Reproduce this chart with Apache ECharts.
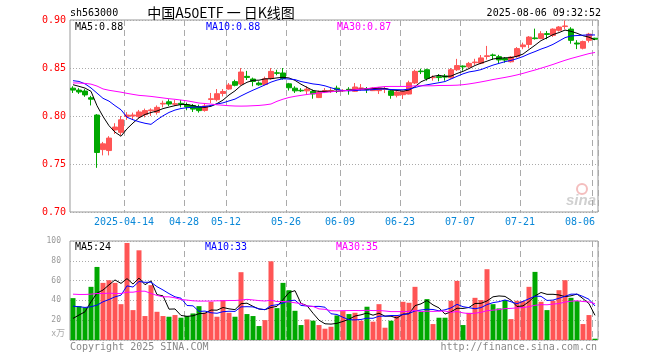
<!DOCTYPE html>
<html><head><meta charset="utf-8">
<script src="https://cdn.jsdelivr.net/npm/echarts@6/dist/echarts.min.js"></script>
<style>html,body{margin:0;padding:0;background:#fff}#c{width:660px;height:360px}</style>
</head><body><div id="c"></div>
<script>
const dates = [
'2025-03-31','2025-04-01','2025-04-02','2025-04-03','2025-04-07','2025-04-08','2025-04-09','2025-04-10','2025-04-11','2025-04-14','2025-04-15','2025-04-16','2025-04-17','2025-04-18','2025-04-21','2025-04-22','2025-04-23','2025-04-24','2025-04-25','2025-04-28','2025-04-29','2025-04-30',
'2025-05-06','2025-05-07','2025-05-08','2025-05-09','2025-05-12','2025-05-13','2025-05-14','2025-05-15','2025-05-16','2025-05-19','2025-05-20','2025-05-21','2025-05-22','2025-05-23','2025-05-26','2025-05-27','2025-05-28','2025-05-29','2025-05-30',
'2025-06-03','2025-06-04','2025-06-05','2025-06-06','2025-06-09','2025-06-10','2025-06-11','2025-06-12','2025-06-13','2025-06-16','2025-06-17','2025-06-18','2025-06-19','2025-06-20','2025-06-23','2025-06-24','2025-06-25','2025-06-26','2025-06-27','2025-06-30',
'2025-07-01','2025-07-02','2025-07-03','2025-07-04','2025-07-07','2025-07-08','2025-07-09','2025-07-10','2025-07-11','2025-07-14','2025-07-15','2025-07-16','2025-07-17','2025-07-18','2025-07-21','2025-07-22','2025-07-23','2025-07-24','2025-07-25','2025-07-28','2025-07-29','2025-07-30','2025-07-31',
'2025-08-01','2025-08-04','2025-08-05','2025-08-06'];

const openP = [0.829,0.827,0.826,0.819,0.801,0.765,0.764,0.7855,0.783,0.7995,0.800,0.7993,0.8014,0.8055,0.8038,0.8125,0.8148,0.8122,0.8132,0.8118,0.8109,0.8094,
0.8058,0.8172,0.817,0.8235,0.8281,0.8358,0.8333,0.8413,0.8385,0.8343,0.8328,0.839,0.845,0.8448,0.8335,0.829,0.8268,0.8262,0.8257,
0.8192,0.8252,0.826,0.829,0.8262,0.8278,0.8257,0.8288,0.8284,0.8264,0.8264,0.8278,0.8262,0.8216,0.8222,0.8229,0.8344,0.8468,0.8482,0.8399,
0.841,0.8417,0.8398,0.8482,0.852,0.8512,0.8555,0.855,0.862,0.8636,0.8618,0.8598,0.8565,0.8618,0.8722,0.8745,0.8813,0.8808,0.8858,0.884,0.8893,0.8932,0.8905,
0.876,0.8706,0.8788,0.881];
const closeP = [0.827,0.825,0.822,0.8175,0.762,0.771,0.777,0.7885,0.796,0.801,0.801,0.8042,0.8056,0.8063,0.809,0.8132,0.8125,0.8128,0.8122,0.8094,0.8072,0.8056,
0.8105,0.818,0.8232,0.8255,0.8322,0.832,0.8458,0.8402,0.836,0.8325,0.8388,0.8465,0.8445,0.839,0.8294,0.8262,0.8262,0.828,0.823,
0.825,0.8265,0.8266,0.8274,0.8266,0.8268,0.8302,0.8292,0.8279,0.8291,0.8291,0.8284,0.8215,0.825,0.8255,0.8346,0.8465,0.8462,0.839,0.8403,
0.840,0.8405,0.8482,0.8525,0.8512,0.8548,0.8562,0.8605,0.8627,0.863,0.8584,0.8583,0.8614,0.8702,0.874,0.8822,0.8806,0.8857,0.885,0.8905,0.8927,0.8938,0.8788,
0.875,0.8775,0.8853,0.880];
const highP = [0.831,0.829,0.828,0.821,0.802,0.773,0.779,0.7925,0.800,0.804,0.8035,0.8063,0.8077,0.808,0.811,0.816,0.8174,0.8167,0.8167,0.814,0.8125,0.8118,
0.8135,0.824,0.8281,0.8281,0.8343,0.8378,0.850,0.847,0.840,0.836,0.841,0.850,0.8482,0.850,0.8345,0.831,0.829,0.831,0.8275,
0.8265,0.8291,0.829,0.8316,0.828,0.830,0.8344,0.8333,0.8302,0.830,0.8302,0.8302,0.8274,0.8264,0.8264,0.8368,0.8482,0.8493,0.8493,0.8423,
0.8437,0.8437,0.850,0.8595,0.8527,0.8563,0.8596,0.8635,0.873,0.865,0.8637,0.8614,0.8624,0.8718,0.8764,0.8833,0.891,0.8884,0.8885,0.8913,0.8937,0.8996,0.8925,
0.879,0.8785,0.8866,0.8815];
const lowP = [0.824,0.823,0.820,0.811,0.746,0.759,0.759,0.7813,0.780,0.796,0.796,0.7973,0.7986,0.800,0.8014,0.809,0.8104,0.8104,0.809,0.806,0.8042,0.8035,
0.8045,0.8135,0.8152,0.8204,0.8274,0.8309,0.8319,0.8375,0.831,0.8315,0.832,0.8378,0.8424,0.8378,0.8265,0.824,0.825,0.8222,0.818,
0.8187,0.8239,0.824,0.8239,0.825,0.8222,0.825,0.8264,0.8239,0.826,0.8229,0.8239,0.818,0.8194,0.8177,0.8225,0.8333,0.8437,0.8368,0.8368,
0.8361,0.8368,0.8388,0.8468,0.8472,0.850,0.8532,0.854,0.8588,0.8585,0.8548,0.8555,0.8557,0.8607,0.8696,0.8705,0.8796,0.880,0.880,0.8823,0.888,0.8903,0.8753,
0.8697,0.8694,0.8765,0.8795];
const volume = [42.3,34.2,32.9,53.7,73.8,57.7,60.4,57.7,36.2,98.0,30.2,90.6,24.2,55.4,28.5,24.2,23.5,25.2,22.5,24.2,26.8,34.2,
27.5,38.6,23.5,40.3,27.5,23.5,68.5,26.2,24.2,14.1,20.1,79.5,32.2,57.7,50.3,29.5,15.1,20.8,19.5,
15.1,11.4,13.4,24.8,29.2,26.2,27.5,19.5,33.6,18.5,36.2,12.4,19.5,24.2,38.6,37.6,53.7,28.5,41.3,16.1,
22.5,22.5,39.6,59.7,15.1,27.5,42.6,40.3,71.5,36.2,31.9,40.3,21.1,39.6,39.3,53.7,68.8,38.6,30.2,39.6,50.3,60.4,42.6,
39.3,16.1,25.2,1.3];

// moving-average values before a full window is available
const ma5Lead = [0.8326,0.8309,0.8291,0.8257];
const ma10Lead = [0.8368,0.8360,0.8335,0.8292,0.8238,0.8184,0.8155,0.8108,0.8065];
const ma30Lead = [0.8345,0.8343,0.834,0.8332,0.8312,0.8282,0.8268,0.8258,0.8248,0.8236,0.8225,0.8215,0.8210,0.8204,0.8196,0.8188,0.8180,0.8174,0.8166,0.8158,0.8147,0.8135,0.8130,0.8124,0.8117,0.8112,0.8107,0.8104,0.8103];
const vma5Lead = [21.8,25.2,28.5,38.6];
const vma10Lead = [34.2,33.6,32.9,33.6,35.2,38.6,40.9,43.6,45.3];
const vma30Lead = [46.3,46.0,46.0,46.3,47.0,47.0,47.3,47.0,47.0,48.3,48.3,49.3,49.3,47.0,45.0,43.6,43.6,42.6,40.9,40.3,39.6,39.3,39.3,39.3,39.6,39.6,39.9,39.9,40.3];

const tickDates = ['2025-04-14','2025-04-28','2025-05-12','2025-05-26','2025-06-09','2025-06-23','2025-07-07','2025-07-21','2025-08-06'];
const tickLabels = ['2025-04-14','04-28','05-12','05-26','06-09','06-23','07-07','07-21','08-06'];
const volGridDates = ['2025-04-28','2025-05-26','2025-06-09','2025-06-23','2025-07-07','2025-07-21','2025-08-06'];
const priceLegend = ['MA5:0.88','MA10:0.88','MA30:0.87'];
const volLegend = ['MA5:24','MA10:33','MA30:35'];

function movingAvg(vals, n, lead) {
  return vals.map((v, i) => {
    if (i < n - 1) return lead[i];
    let s = 0;
    for (let k = i - n + 1; k <= i; k++) s += vals[k];
    return +(s / n).toFixed(4);
  });
}

const UP = '#ff5555', DOWN = '#00a800';
const MONO = 'DejaVu Sans Mono';
const priceSplitIdx = new Set(tickDates.map(d => dates.indexOf(d)));
const volSplitIdx = new Set(volGridDates.map(d => dates.indexOf(d)));

const candleData = dates.map((d, i) => [openP[i], closeP[i], lowP[i], highP[i]]);
const volData = volume.map((v, i) => ({ value: v, itemStyle: { color: closeP[i] >= openP[i] ? UP : DOWN } }));

function lineSeries(name, data, color, xi, yi) {
  return { name, type: 'line', data, xAxisIndex: xi, yAxisIndex: yi, symbol: 'none', showSymbol: false,
    lineStyle: { color, width: 1 }, itemStyle: { color }, z: 5, silent: true };
}

function txt(x, y, text, fill, align, size, family) {
  return { type: 'text', x, y, silent: true, z: 100,
    style: { text, fill, align: align || 'left', verticalAlign: 'middle', fontSize: size || 10, fontFamily: family || MONO } };
}

const chart = echarts.init(document.getElementById('c'), null, { renderer: 'canvas' });
chart.setOption({
  animation: false,
  backgroundColor: '#ffffff',
  grid: [
    { left: 70, top: 20, width: 528, height: 192, show: true, borderColor: '#999', borderWidth: 1, backgroundColor: 'transparent' },
    { left: 70, top: 241, width: 528, height: 99, show: true, borderColor: '#999', borderWidth: 1, backgroundColor: 'transparent' }
  ],
  xAxis: [
    { type: 'category', gridIndex: 0, data: dates, boundaryGap: true,
      axisLine: { show: false }, axisTick: { show: false },
      axisLabel: {
        interval: (i, v) => tickDates.indexOf(v) >= 0,
        formatter: (v) => { const k = tickDates.indexOf(v); if (k < 0) return ''; return (k === tickDates.length - 1 ? '{e|' : '{n|') + tickLabels[k] + '}'; },
        margin: 5,
        rich: {
          n: { color: '#0a88d8', fontFamily: MONO, fontSize: 10, padding: [0, 6, 0, 0] },
          e: { color: '#0a88d8', fontFamily: MONO, fontSize: 10, padding: [0, 30, 0, 0] }
        }
      },
      splitLine: { show: true, interval: (i) => priceSplitIdx.has(i), lineStyle: { color: '#aaa', type: [6, 4], width: 1 } }
    },
    { type: 'category', gridIndex: 1, data: dates, boundaryGap: true,
      axisLine: { show: false }, axisTick: { show: false }, axisLabel: { show: false },
      splitLine: { show: true, interval: (i) => volSplitIdx.has(i), lineStyle: { color: '#aaa', type: [6, 4], width: 1 } }
    }
  ],
  yAxis: [
    { type: 'value', gridIndex: 0, min: 0.70, max: 0.90, interval: 0.05,
      axisLine: { show: false }, axisTick: { show: false },
      axisLabel: { color: '#ff0000', fontFamily: MONO, fontSize: 10, margin: 4, formatter: (v) => v.toFixed(2) },
      splitLine: { show: true, lineStyle: { color: '#aaa', type: [1, 2], width: 1 } }
    },
    { type: 'value', gridIndex: 1, min: 0, max: 100, interval: 20,
      axisLine: { show: false }, axisTick: { show: false },
      axisLabel: { color: '#999', fontFamily: MONO, fontSize: 8, margin: 9, formatter: (v) => v === 0 ? '' : String(v) },
      splitLine: { show: true, lineStyle: { color: '#aaa', type: [1, 2], width: 1 } }
    }
  ],
  series: [
    { name: 'K', type: 'candlestick', xAxisIndex: 0, yAxisIndex: 0, data: candleData, barWidth: 5, silent: true,
      itemStyle: { color: UP, color0: DOWN, borderColor: UP, borderColor0: DOWN, borderWidth: 1 } },
    lineSeries('MA5', movingAvg(closeP, 5, ma5Lead), '#000000', 0, 0),
    lineSeries('MA10', movingAvg(closeP, 10, ma10Lead), '#0000ff', 0, 0),
    lineSeries('MA30', movingAvg(closeP, 30, ma30Lead), '#ff00ff', 0, 0),
    { name: 'VOL', type: 'bar', xAxisIndex: 1, yAxisIndex: 1, data: volData, barWidth: 5, silent: true },
    lineSeries('VMA5', movingAvg(volume, 5, vma5Lead), '#000000', 1, 1),
    lineSeries('VMA10', movingAvg(volume, 10, vma10Lead), '#0000ff', 1, 1),
    lineSeries('VMA30', movingAvg(volume, 30, vma30Lead), '#ff00ff', 1, 1)
  ],
  graphic: [
    txt(70, 13, 'sh563000', '#000'),
    txt(221, 13, '中国A50ETF 一 日K线图', '#000', 'center', 14, 'Noto Sans CJK SC'),
    txt(601, 13, '2025-08-06 09:32:52', '#000', 'right'),
    txt(75, 27, priceLegend[0], '#000'),
    txt(206, 27, priceLegend[1], '#0000ff'),
    txt(337, 27, priceLegend[2], '#ff00ff'),
    txt(75, 247, volLegend[0], '#000'),
    txt(205, 247, volLegend[1], '#0000ff'),
    txt(336, 247, volLegend[2], '#ff00ff'),
    txt(65, 333, 'x万', '#aaa', 'right', 9, 'Noto Sans CJK SC'),
    txt(70, 347, 'Copyright 2025 SINA.COM', '#888'),
    txt(597, 347, 'http://finance.sina.com.cn', '#888', 'right'),
    { type: 'circle', shape: { cx: 582, cy: 189, r: 5 }, silent: true, z: 1,
      style: { fill: 'none', stroke: 'rgba(230,110,110,0.45)', lineWidth: 2 } },
    { type: 'text', x: 581, y: 201, silent: true, z: 1,
      style: { text: 'sina', fill: 'rgba(150,150,150,0.45)', align: 'center', verticalAlign: 'middle', fontSize: 15, fontStyle: 'italic', fontWeight: 'bold', fontFamily: 'Liberation Sans' } }
  ]
});
</script>
</body></html>
